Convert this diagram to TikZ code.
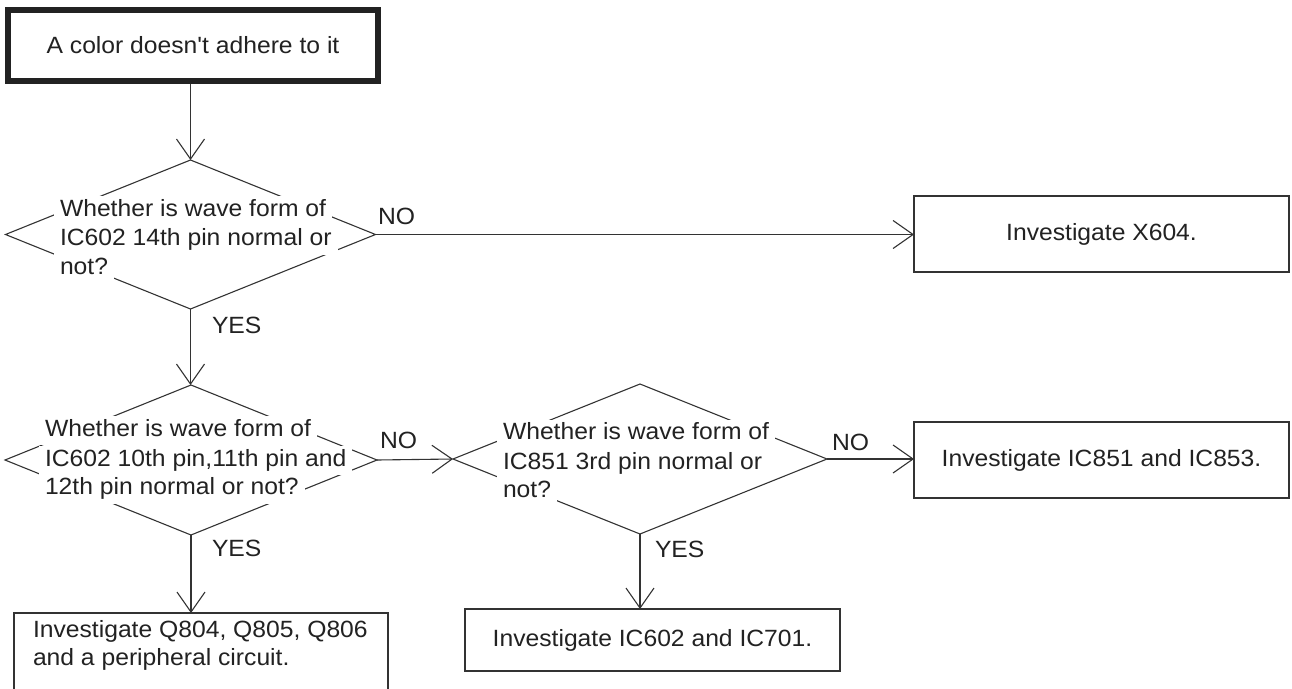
\documentclass[tikz,border=0pt]{standalone}
\usepackage{fontspec}
\setmainfont{Liberation Sans}[FakeStretch=1.05, Ligatures=TeXOff]
\usetikzlibrary{arrows.meta,shapes.geometric}
\definecolor{ink}{HTML}{333333}
\definecolor{txt}{HTML}{222222}
\begin{document}
\begin{tikzpicture}[x=1pt,y=-1pt,
  font=\fontsize{23.5}{29.5}\selectfont,
  every node/.style={text=txt},
  startbox/.style={draw=txt, line width=6pt, minimum width=370pt, minimum height=71pt, inner sep=0pt},
  dia/.style={draw=ink, line width=1.1pt, shape=diamond, inner sep=0pt, outer sep=0pt},
  box/.style={draw=ink, line width=1.1pt, inner sep=0pt, outer sep=0pt},
  arr/.style={draw=ink, line width=1.1pt, -{Straight Barb[length=20pt,width=28pt]}},
  ln/.style={fill=white, anchor=base west, inner xsep=6pt, inner ysep=3pt, text height=17pt, text depth=6pt, outer sep=0pt},
  lbl/.style={anchor=base west, inner sep=0pt, outer sep=0pt}]
\useasboundingbox (0,0) rectangle (1292,688);
\clip (0,0) rectangle (1292,688);
\fill[white] (0,0) rectangle (1292,688);

% shapes
\node[startbox] (start) at (193,45.5) {A color doesn't adhere to it};
\node[dia, minimum width=370pt, minimum height=149pt] (d1) at (190.5,234.5) {};
\node[dia, minimum width=372pt, minimum height=150pt] (d2) at (191,460) {};
\node[dia, minimum width=374pt, minimum height=150pt] (d3) at (640,459) {};
\node[box, minimum width=375pt, minimum height=76pt] (x604) at (1101.5,234) {Investigate X604.};
\node[box, minimum width=375pt, minimum height=76pt] (ic851) at (1101.5,460) {Investigate IC851 and IC853.};
\node[box, minimum width=375pt, minimum height=62pt] (ic602) at (652.5,640) {Investigate IC602 and IC701.};
\node[box, anchor=north west, minimum width=374pt, minimum height=110pt] (q804) at (14,613) {};
\node[lbl] (q804a) at (33,637.7) {Investigate Q804, Q805, Q806};
\node[lbl] (q804b) at (33,665) {and a peripheral circuit.};

% diamond texts
\node[ln] (d1a) at (54,216) {Whether is wave form of};
\node[ln] (d1b) at (54,245.5) {IC602 14th pin normal or};
\node[ln] (d1c) at (54,274.5) {not?};
\node[ln] (d2a) at (39,436) {Whether is wave form of};
\node[ln] (d2b) at (39,466) {IC602 10th pin,11th pin and};
\node[ln] (d2c) at (39,494.5) {12th pin normal or not?};
\node[ln] (d3a) at (497,439.5) {Whether is wave form of};
\node[ln] (d3b) at (497,469) {IC851 3rd pin normal or};
\node[ln] (d3c) at (497,497) {not?};

% connectors
\draw[arr] (d1.north |- start.south) -- (d1.north);
\draw[arr] (d1.east) -- (d1.east -| x604.west);
\draw[arr] (d1.south) -- (d1.south |- d2.north);
\draw[arr] (d2.east) -- (d3.west);
\draw[arr] (d3.east) -- (d3.east -| ic851.west);
\draw[arr] (d2.south) -- (d2.south |- q804.north);
\draw[arr] (d3.south) -- (d3.south |- ic602.north);

% labels
\node[lbl] (no1) at (378,224) {NO};
\node[lbl] (no2) at (380,448) {NO};
\node[lbl] (no3) at (832,450) {NO};
\node[lbl] (yes1) at (212,333) {YES};
\node[lbl] (yes2) at (212,556) {YES};
\node[lbl] (yes3) at (655,557) {YES};
\end{tikzpicture}
\end{document}
